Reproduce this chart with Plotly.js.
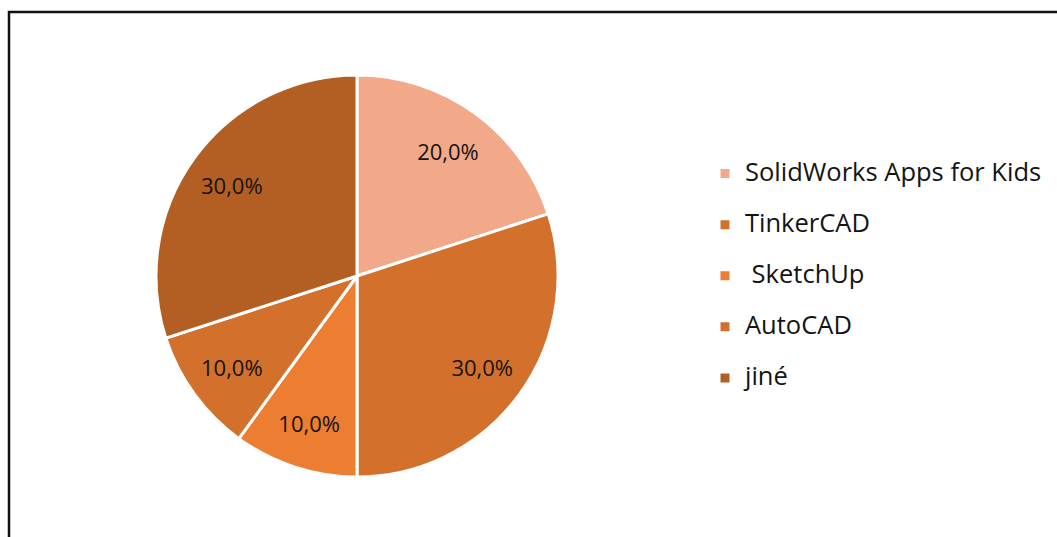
<!DOCTYPE html>
<html>
<head>
<meta charset="utf-8">
<script src="https://cdn.plot.ly/plotly-3.0.1.min.js"></script>
<style>
  html, body { margin: 0; padding: 0; background: #ffffff; }
  #chart { width: 1057px; height: 537px; }
</style>
</head>
<body>
<div id="chart"></div>
<script>
// ---- data ----
const categories = ["SolidWorks Apps for Kids", "TinkerCAD", " SketchUp", "AutoCAD", "jiné"];
const shares = [20, 30, 10, 10, 30];
const sliceColors = ["#F1A98A", "#D2702C", "#ED7D31", "#D2702C", "#B35E23"];

// ---- layout constants ----
const W = 1057, H = 537;
const cx = 357, cy = 276, R = 201;
const domain = {
  x: [(cx - R) / W, (cx + R) / W],
  y: [(H - (cy + R)) / H, (H - (cy - R)) / H]
};
const FONT = "'Open Sans', 'Noto Sans', sans-serif";

// legend labels: visible text in a larger span, spacing driven by a blank second line
const legendLabels = categories.map(c => '<span style="font-size:25.5px">' + c + '</span><br> ');

const basePie = {
  type: 'pie',
  labels: legendLabels,
  values: shares,
  sort: false,
  direction: 'clockwise',
  rotation: 0,
  domain: domain,
  marker: { colors: sliceColors, line: { color: '#ffffff', width: 3 } },
  textinfo: 'none',
  hoverinfo: 'none',
  showlegend: true
};

// transparent ring on top only to place the percentage labels
const labelRing = {
  type: 'pie',
  labels: categories,
  values: shares,
  sort: false,
  direction: 'clockwise',
  rotation: 0,
  domain: domain,
  hole: 0.54,
  marker: { colors: categories.map(() => 'rgba(0,0,0,0)'), line: { width: 0 } },
  texttemplate: '%{percent:.1%}',
  textposition: 'inside',
  insidetextorientation: 'horizontal',
  insidetextfont: { family: FONT, size: 22, color: '#141414' },
  hoverinfo: 'none',
  showlegend: false
};

const layout = {
  width: W,
  height: H,
  margin: { l: 0, r: 0, t: 0, b: 0 },
  paper_bgcolor: '#ffffff',
  separators: ', ',
  font: { family: FONT, color: '#141414' },
  showlegend: true,
  legend: {
    x: 705 / W,
    xanchor: 'left',
    y: 1 - 155 / H,
    yanchor: 'top',
    valign: 'top',
    font: { family: FONT, size: 18.5, color: '#141414' },
    bgcolor: 'rgba(0,0,0,0)',
    traceorder: 'normal'
  },
  shapes: [{
    type: 'rect',
    xref: 'paper', yref: 'paper',
    x0: 9 / W, x1: 1.2,
    y0: -0.2, y1: 1 - 12 / H,
    line: { color: '#111111', width: 2.5 },
    fillcolor: 'rgba(0,0,0,0)'
  }]
};

Plotly.newPlot('chart', [basePie, labelRing], layout, { displayModeBar: false, staticPlot: true });
</script>
</body>
</html>
